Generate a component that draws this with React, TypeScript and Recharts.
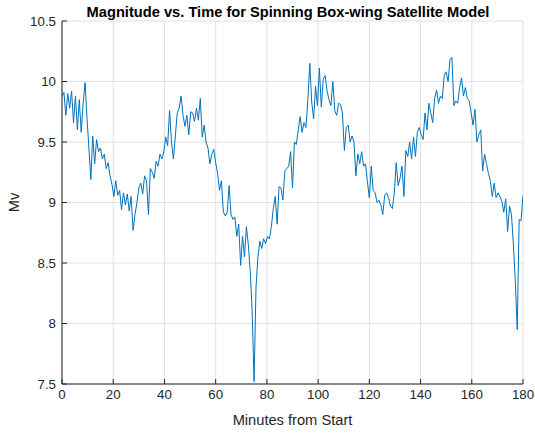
import { CartesianGrid, Label, Line, LineChart, XAxis, YAxis } from 'recharts';

// samples every 0.75 minutes, 0 .. 180
const sampleStep = 0.75;

const magnitude = [
  // 0 - 15 min
  9.88, 9.91, 9.72, 9.9, 9.78, 9.92, 9.66, 9.88, 9.6, 9.85, 9.58, 9.82, 9.99, 9.7, 9.45, 9.19, 9.55, 9.32, 9.52, 9.42,
  // 15 - 30
  9.45, 9.36, 9.4, 9.28, 9.33, 9.22, 9.15, 9.05, 9.18, 9.06, 9.1, 8.94, 9.08, 8.98, 9.07, 8.93, 9.05, 8.77, 8.9, 9.0,
  // 30 - 45
  9.12, 9.16, 9.07, 9.22, 9.18, 8.9, 9.28, 9.25, 9.2, 9.34, 9.3, 9.4, 9.36, 9.42, 9.54, 9.47, 9.76, 9.5, 9.36, 9.55,
  // 45 - 60
  9.74, 9.78, 9.88, 9.72, 9.63, 9.72, 9.56, 9.75, 9.74, 9.67, 9.78, 9.68, 9.86, 9.54, 9.64, 9.5, 9.45, 9.32, 9.4, 9.44,
  // 60 - 75
  9.33, 9.24, 9.1, 9.18, 8.92, 8.89, 8.92, 9.14, 8.9, 8.86, 8.88, 8.72, 8.82, 8.48, 8.72, 8.55, 8.8, 8.65, 8.43, 8.1,
  // 75 - 90
  7.52, 8.3, 8.55, 8.68, 8.62, 8.7, 8.66, 8.72, 8.7, 8.8, 8.95, 9.05, 8.82, 9.13, 9.12, 9.02, 9.26, 9.28, 9.3, 9.42,
  // 90 - 105
  9.12, 9.5, 9.48, 9.6, 9.71, 9.58, 9.66, 9.62, 9.85, 10.15, 9.83, 9.69, 9.96, 9.8, 10.11, 9.79, 10.02, 10.05, 9.92, 9.85,
  // 105 - 120
  9.8, 10.0, 9.76, 9.72, 9.82, 9.81, 9.74, 9.43, 9.62, 9.64, 9.5, 9.55, 9.5, 9.22, 9.4, 9.32, 9.42, 9.3, 9.32, 9.17,
  // 120 - 135
  9.04, 9.3, 9.1, 9.08, 9.0, 9.02, 8.98, 8.9, 9.06, 9.08, 9.04, 8.97, 8.95, 9.08, 9.33, 9.14, 9.2, 9.3, 9.05, 9.43,
  // 135 - 150
  9.38, 9.5, 9.36, 9.54, 9.38, 9.58, 9.62, 9.56, 9.52, 9.74, 9.6, 9.82, 9.74, 9.66, 9.86, 9.93, 9.82, 9.88, 9.86, 10.05,
  // 150 - 165
  10.08, 10.0, 10.18, 10.2, 9.8, 9.84, 9.82, 9.95, 10.03, 9.88, 9.95, 9.86, 9.84, 9.74, 9.64, 9.77, 9.5, 9.56, 9.6, 9.26,
  // 165 - 180
  9.4, 9.32, 9.24, 9.18, 9.05, 9.16, 9.04, 9.08, 9.05, 9.01, 8.92, 9.03, 8.76, 8.97, 8.9, 8.65, 8.35, 7.95, 8.86, 8.85,
  9.06,
];

const xTicks = [0, 20, 40, 60, 80, 100, 120, 140, 160, 180];
const yTicks = [7.5, 8, 8.5, 9, 9.5, 10, 10.5];

const chartData = magnitude.map((mv, i) => ({ minutes: i * sampleStep, mv }));

const axisColor = '#262626';
const font = "'Liberation Sans', Arial, Helvetica, sans-serif";
const tickStyle = { fill: axisColor, fontSize: 13.3, fontFamily: font };

export default function App() {
  return (
    <div
      style={{
        position: 'absolute',
        left: 0,
        top: 0,
        width: 535,
        height: 434,
        background: '#fff',
      }}
    >
      <LineChart
        width={535}
        height={434}
        data={chartData}
        margin={{ top: 21, right: 12, bottom: 0, left: 0 }}
      >
        <CartesianGrid stroke='#e0e0e0' />
        <XAxis
          dataKey='minutes'
          type='number'
          domain={[0, 180]}
          ticks={xTicks}
          interval={0}
          height={50}
          stroke={axisColor}
          tickSize={-5}
          tickMargin={11}
          tick={tickStyle}
          allowDataOverflow
        >
          <Label
            value='Minutes from Start'
            position='insideBottom'
            offset={9}
            style={{ fill: axisColor, fontSize: 14.67, fontFamily: font }}
          />
        </XAxis>
        <XAxis
          xAxisId='top'
          orientation='top'
          dataKey='minutes'
          type='number'
          domain={[0, 180]}
          ticks={xTicks}
          interval={0}
          height={0}
          stroke={axisColor}
          tickSize={-5}
          tickFormatter={() => ''}
          allowDataOverflow
        />
        <YAxis
          type='number'
          domain={[7.5, 10.5]}
          ticks={yTicks}
          interval={0}
          width={62}
          stroke={axisColor}
          tickSize={-5}
          tickMargin={11}
          tick={tickStyle}
          allowDataOverflow
        >
          <Label
            value='Mv'
            angle={-90}
            position='insideLeft'
            offset={14}
            style={{
              fill: axisColor,
              fontSize: 14.67,
              fontFamily: font,
              textAnchor: 'middle',
            }}
          />
        </YAxis>
        <YAxis
          yAxisId='right'
          orientation='right'
          type='number'
          domain={[7.5, 10.5]}
          ticks={yTicks}
          interval={0}
          width={0}
          stroke={axisColor}
          tickSize={-5}
          tickFormatter={() => ''}
          allowDataOverflow
        />
        <Line
          dataKey='mv'
          type='linear'
          stroke='#0072BD'
          strokeWidth={1}
          dot={false}
          activeDot={false}
          isAnimationActive={false}
        />
      </LineChart>
      <svg
        width={535}
        height={24}
        style={{ position: 'absolute', left: 0, top: 0, pointerEvents: 'none' }}
      >
        <text
          x={288}
          y={17}
          textAnchor='middle'
          fill='#000'
          fontSize={14.67}
          fontWeight='bold'
          fontFamily={font}
        >
          Magnitude vs. Time for Spinning Box-wing Satellite Model
        </text>
      </svg>
    </div>
  );
}
